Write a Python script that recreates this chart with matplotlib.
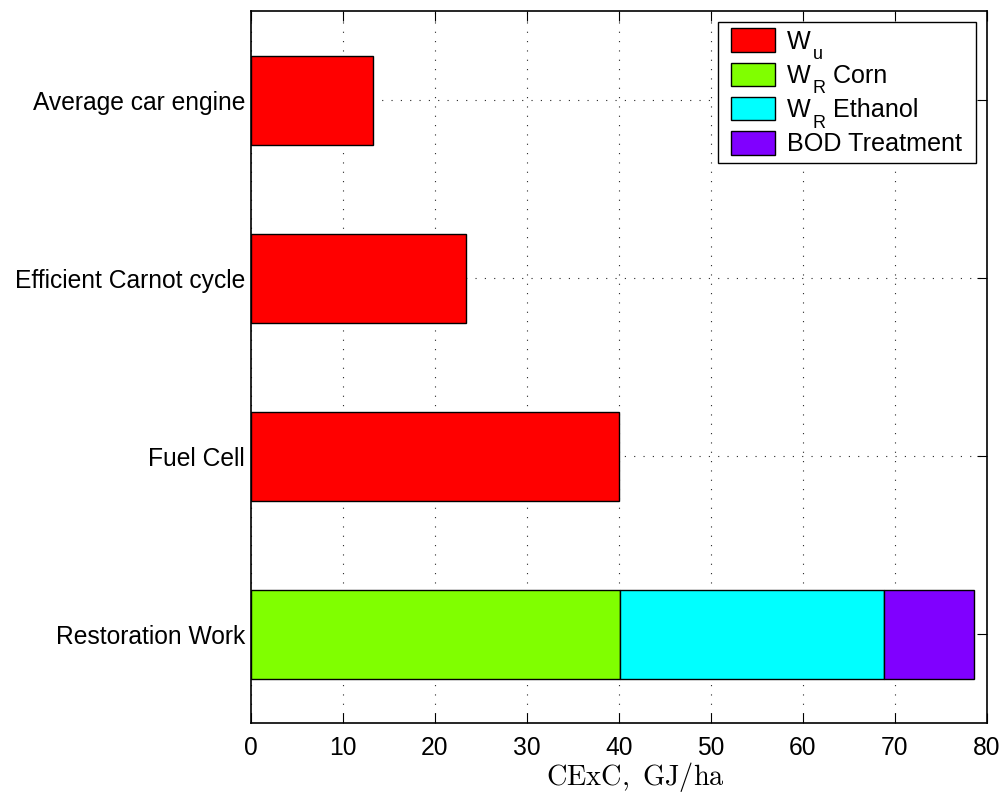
import matplotlib
matplotlib.use('Agg')
import matplotlib.pyplot as plt
from matplotlib.font_manager import FontProperties
from matplotlib.legend_handler import HandlerPatch, update_from_first_child
from matplotlib.container import BarContainer
from matplotlib.patches import Rectangle
import numpy as np

plt.rcParams['font.family'] = ['Liberation Sans', 'DejaVu Sans']
plt.rcParams['mathtext.fontset'] = 'cm'

categories = ['Restoration Work', 'Fuel Cell', 'Efficient Carnot cycle', 'Average car engine']
w_u = [0, 40.05, 23.37, 13.33]
w_r_corn = [40.18, 0, 0, 0]
w_r_ethanol = [28.66, 0, 0, 0]
bod = [9.78, 0, 0, 0]

# legend labels split as (main, subscript, rest) to get MATLAB-like low subscripts
label_main = ['W', 'W', 'W', 'BOD Treatment']
label_sub = ['u', 'R', 'R', '']
label_rest = ['', ' Corn', ' Ethanol', '']
colors = ['#ff0000', '#80ff00', '#00ffff', '#8000ff']

fs = 17.7
leg_fs = 18.1

fig = plt.figure(figsize=(10.02, 7.92), dpi=100)
ax = fig.add_axes([0.2502, 0.0867, 0.7345, 0.8994])

y = np.arange(1, len(categories) + 1)
left = np.zeros(len(categories))
for vals, lab, col in zip([w_u, w_r_corn, w_r_ethanol, bod], label_main, colors):
    vals = np.array(vals)
    mask = vals > 0
    ax.barh(y[mask], vals[mask], left=left[mask], height=0.5, color=col,
            edgecolor='black', linewidth=1, label=lab, zorder=3)
    left += vals

ax.set_xlim(0, 80)
ax.set_ylim(0.5, 4.5)
ax.set_xticks(np.arange(0, 81, 10))
ax.set_yticks(y)
ax.set_yticklabels(categories)
ax.tick_params(axis='both', direction='in', labelsize=fs, top=True, right=True, length=7)
ax.tick_params(axis='x', pad=9)
ax.tick_params(axis='y', pad=4)
ax.grid(True, linestyle=(0, (1, 7.4)), color='0.15', linewidth=0.8, zorder=0)
for s in ax.spines.values():
    s.set_linewidth(1.2)

ax.set_xlabel(r'$\mathrm{CExC,\ GJ/ha}$', fontsize=20.4)
ax.xaxis.set_label_coords(0.523, -0.051)


# legend patch shifted right a little, for the wider left margin of the MATLAB legend
def shifted_patch(legend, orig_handle, xdescent, ydescent, width, height, fontsize):
    off = 5
    return Rectangle((-xdescent + off, -ydescent), width - off, height)


handles, labels = ax.get_legend_handles_labels()
labels[-1] = labels[-1] + ' '
leg = ax.legend(handles, labels, loc='upper right', fontsize=leg_fs, fancybox=False,
                framealpha=1, edgecolor='black', borderaxespad=0.42, handlelength=2.0,
                handleheight=1.05, handletextpad=0.5, labelspacing=0.36, borderpad=0.27,
                handler_map={BarContainer: HandlerPatch(patch_func=shifted_patch,
                                                        update_func=update_from_first_child)})
leg.get_frame().set_linewidth(1)

# low subscripts and the rest of each label, anchored to the legend texts
fig.canvas.draw()
renderer = fig.canvas.get_renderer()
fp = FontProperties(family='Liberation Sans', size=leg_fs)
_, _, desc = renderer.get_text_width_height_descent('lp', fp, ismath=False)
desc_pt = desc * 72 / fig.dpi
for t, sub, rest in zip(leg.get_texts(), label_sub, label_rest):
    if not sub:
        continue
    st = ax.annotate(sub, xy=(1, 0), xycoords=t, xytext=(1.2, desc_pt - 7.6),
                     textcoords='offset points', fontsize=13, va='baseline',
                     ha='left', annotation_clip=False, zorder=10)
    if rest:
        ax.annotate(rest, xy=(1, 0), xycoords=(st, t), xytext=(0, desc_pt),
                    textcoords='offset points', fontsize=leg_fs, va='baseline',
                    ha='left', annotation_clip=False, zorder=10)

fig.savefig('out.png', dpi=100)
